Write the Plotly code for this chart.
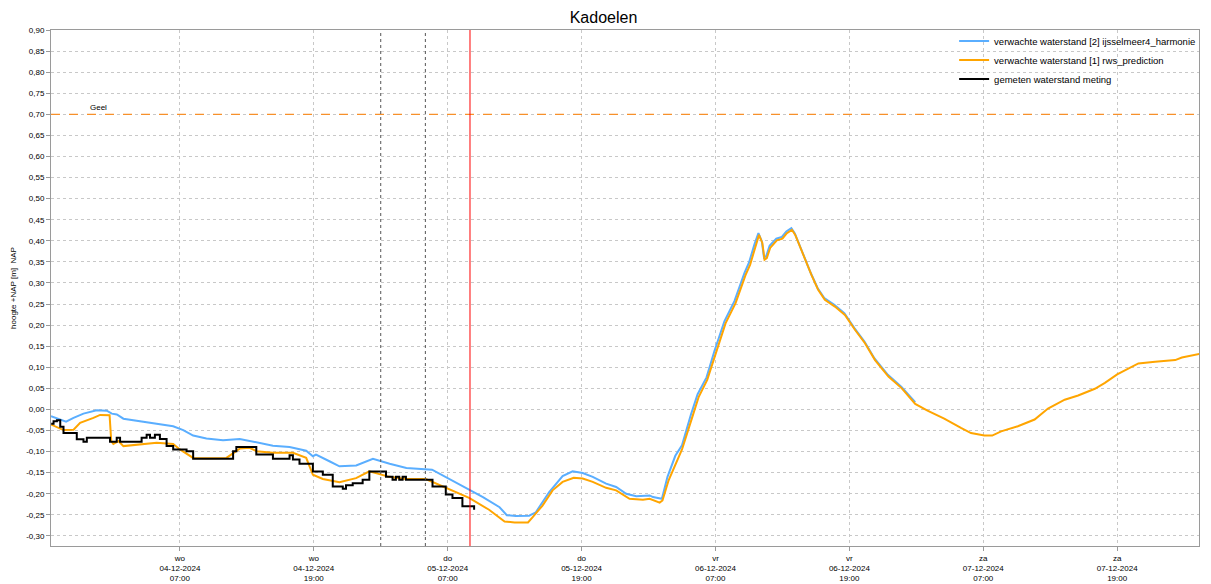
import pandas as pd
import plotly.graph_objects as go

# time axis: hours relative to 2024-12-04 07:00
BASE = pd.Timestamp("2024-12-04 07:00")

blue_h = [-11.55, -10.2, -9.53, -8.64, -7.45, -6.55, -6.1, -5.65, -5.06, -3.57, -2.08, -0.6, 0.3, 1.19,
          2.38, 3.87, 5.36, 6.85, 8.34, 9.83, 11.32, 11.92, 12.2, 13.4, 14.3, 15.8, 17.3, 18.8, 20.3,
          22.6, 24.17, 26.0, 27.16, 28.65, 29.3, 30.1, 31.3, 31.9, 33.1, 34.3, 35.2, 36.1, 37.0, 38.2,
          39.1, 40.0, 40.9, 42.1, 42.4, 43.2, 43.7, 44.4, 45.0, 45.8, 46.4, 47.2, 47.9, 48.8, 49.7,
          50.6, 51.0, 51.5, 51.85, 52.15, 52.35, 52.55, 52.85, 53.45, 53.95, 54.35, 54.8, 55.1,
          55.85, 56.55, 57.15, 57.75, 58.65, 59.55, 60.45, 61.35, 62.25, 63.45, 64.65, 65.9]
blue_v = [-0.016, -0.029, -0.020, -0.010, -0.002, -0.003, -0.010, -0.012, -0.022, -0.028, -0.033,
          -0.040, -0.049, -0.062, -0.069, -0.073, -0.070, -0.078, -0.086, -0.089, -0.098, -0.111,
          -0.107, -0.123, -0.135, -0.133, -0.117, -0.129, -0.139, -0.143, -0.165, -0.192, -0.208,
          -0.232, -0.251, -0.253, -0.252, -0.244, -0.196, -0.158, -0.147, -0.151, -0.160, -0.176,
          -0.184, -0.200, -0.206, -0.204, -0.208, -0.212, -0.160, -0.110, -0.085, -0.012, 0.036,
          0.076, 0.138, 0.209, 0.257, 0.324, 0.348, 0.392, 0.418, 0.399, 0.360, 0.364, 0.388, 0.405,
          0.409, 0.422, 0.430, 0.418, 0.367, 0.323, 0.288, 0.264, 0.248, 0.228, 0.193, 0.161, 0.121,
          0.082, 0.054, 0.017]

orange_h = [-11.53, -10.43, -9.53, -8.94, -7.75, -7.15, -6.30, -6.15, -5.96, -5.51, -5.06, -3.57,
            -2.08, -0.6, 0.0, 1.19, 2.38, 4.17, 5.36, 6.25, 6.85, 8.34, 10.13, 11.32, 11.92, 12.81,
            14.3, 15.79, 16.98, 18.77, 20.26, 22.04, 23.24, 25.92, 27.71, 28.65, 29.1, 30.0, 31.2,
            31.6, 32.5, 33.4, 34.3, 35.3, 36.1, 37.0, 38.2, 39.1, 40.3, 41.5, 42.1, 43.0, 43.25,
            43.8, 44.5, 45.0, 45.9, 46.5, 47.26, 48.0, 48.9, 49.8, 50.7, 51.1, 51.6, 51.9, 52.2,
            52.4, 52.6, 52.9, 53.5, 54.0, 54.4, 54.85, 55.15, 55.9, 56.6, 57.2, 57.8, 58.7, 59.6,
            60.5, 61.4, 62.3, 63.5, 64.7, 65.9, 67.0, 68.5, 70.0, 70.9, 72.1, 72.8, 73.6, 75.1,
            76.6, 77.8, 79.3, 80.5, 82.0, 82.9, 84.0, 85.9, 87.4, 89.2, 89.8, 91.4]
orange_v = [-0.036, -0.049, -0.048, -0.032, -0.020, -0.013, -0.014, -0.075, -0.082, -0.075, -0.087,
            -0.083, -0.079, -0.082, -0.095, -0.115, -0.116, -0.115, -0.093, -0.091, -0.099, -0.103,
            -0.103, -0.115, -0.155, -0.165, -0.173, -0.163, -0.147, -0.160, -0.165, -0.165, -0.179,
            -0.210, -0.238, -0.256, -0.266, -0.268, -0.268, -0.256, -0.228, -0.192, -0.172, -0.162,
            -0.164, -0.172, -0.186, -0.192, -0.212, -0.214, -0.212, -0.221, -0.216, -0.168, -0.125,
            -0.095, -0.020, 0.030, 0.070, 0.133, 0.204, 0.252, 0.319, 0.343, 0.387, 0.414, 0.395,
            0.355, 0.359, 0.383, 0.401, 0.405, 0.418, 0.426, 0.414, 0.363, 0.319, 0.284, 0.260, 0.244,
            0.224, 0.189, 0.157, 0.117, 0.078, 0.050, 0.013, -0.003, -0.022, -0.044, -0.056, -0.062,
            -0.062, -0.052, -0.040, -0.024, 0.002, 0.023, 0.033, 0.049, 0.063, 0.083, 0.109, 0.113,
            0.117, 0.123, 0.132]

black_h = [-11.53, -11.32, -11.02, -10.72, -10.43, -9.53, -9.24, -8.64, -8.34, -6.55, -6.26, -5.66,
           -5.36, -3.57, -3.43, -2.98, -2.68, -2.24, -1.79, -1.19, -0.6, 0.6, 1.19, 4.17, 4.77, 5.06,
           6.25, 6.85, 8.04, 8.34, 9.53, 9.83, 10.13, 10.72, 11.62, 11.92, 12.81, 13.7, 14.6, 14.89,
           15.49, 16.38, 16.98, 17.87, 18.47, 19.06, 19.36, 19.66, 19.96, 20.26, 22.04, 22.64, 23.83,
           24.43, 25.32, 26.22, 26.37]
black_v = [-0.034, -0.028, -0.026, -0.041, -0.056, -0.056, -0.071, -0.077, -0.067, -0.067, -0.077,
           -0.067, -0.077, -0.077, -0.067, -0.060, -0.067, -0.060, -0.070, -0.087, -0.095, -0.099,
           -0.117, -0.117, -0.099, -0.089, -0.089, -0.107, -0.107, -0.117, -0.117, -0.109, -0.119,
           -0.129, -0.129, -0.147, -0.155, -0.183, -0.188, -0.180, -0.175, -0.167, -0.147, -0.147,
           -0.160, -0.167, -0.160, -0.167, -0.160, -0.167, -0.167, -0.183, -0.202, -0.210, -0.230,
           -0.230, -0.238]

tick_times = ["2024-12-04 07:00", "2024-12-04 19:00", "2024-12-05 07:00", "2024-12-05 19:00",
              "2024-12-06 07:00", "2024-12-06 19:00", "2024-12-07 07:00", "2024-12-07 19:00"]
tick_labels = ["wo<br>04-12-2024<br>07:00", "wo<br>04-12-2024<br>19:00",
               "do<br>05-12-2024<br>07:00", "do<br>05-12-2024<br>19:00",
               "vr<br>06-12-2024<br>07:00", "vr<br>06-12-2024<br>19:00",
               "za<br>07-12-2024<br>07:00", "za<br>07-12-2024<br>19:00"]
y_vals = [round(-0.30 + 0.05 * i, 2) for i in range(25)]
y_labels = [f"{v:.2f}".replace(".", ",").replace("-0,00", "0,00") for v in y_vals]

x_range = ["2024-12-03 19:27", "2024-12-08 02:20"]
now_time = "2024-12-05 09:00"
marker_times = ["2024-12-05 01:00", "2024-12-05 05:00"]
geel_level = 0.70


def to_time(hours):
    return BASE + pd.to_timedelta(hours, unit="h")


FONT = "Liberation Sans"
fig = go.Figure()
fig.add_trace(go.Scatter(x=to_time(blue_h), y=blue_v, mode="lines",
                         name="verwachte waterstand [2] ijsselmeer4_harmonie",
                         line=dict(color="#5aaeff", width=2)))
fig.add_trace(go.Scatter(x=to_time(orange_h), y=orange_v, mode="lines",
                         name="verwachte waterstand [1] rws_prediction",
                         line=dict(color="#ffa500", width=2)))
fig.add_trace(go.Scatter(x=to_time(black_h), y=black_v, mode="lines", line_shape="hv",
                         name="gemeten waterstand meting",
                         line=dict(color="#000000", width=2)))

shapes = [dict(type="line", xref="paper", yref="y", x0=0, x1=1, y0=geel_level, y1=geel_level,
               line=dict(color="#f7902a", width=1.3, dash="dash"))]
for t in marker_times:
    shapes.append(dict(type="line", xref="x", yref="paper", x0=t, x1=t, y0=0, y1=1,
                       line=dict(color="#555555", width=1, dash="dot")))
shapes.append(dict(type="line", xref="x", yref="paper", x0=now_time, x1=now_time, y0=0, y1=1,
                   line=dict(color="#ff0000", width=1)))

fig.update_layout(
    width=1203, height=576,
    margin=dict(l=43, r=11, t=22, b=38),
    paper_bgcolor="white", plot_bgcolor="white",
    font=dict(family=FONT, size=8, color="#000000"),
    title=dict(text="Kadoelen", x=0.495, xanchor="center", y=0.984, yanchor="middle",
               font=dict(family=FONT, size=16, color="#000000")),
    showlegend=True,
    legend=dict(x=0.786, y=1.007, xanchor="left", yanchor="top", bgcolor="rgba(0,0,0,0)",
                font=dict(family=FONT, size=9.5), itemwidth=30, tracegroupgap=0),
    shapes=shapes,
    annotations=[dict(text="Geel", xref="x", yref="y", x=to_time(-7.3), y=geel_level,
                      yanchor="bottom", showarrow=False, font=dict(family=FONT, size=8))],
)
fig.update_xaxes(type="date", range=x_range, tickvals=tick_times, ticktext=tick_labels,
                 automargin=False,
                 showgrid=True, gridcolor="#c8c8c8", griddash="dot", gridwidth=1,
                 showline=True, linecolor="#9a9a9a", linewidth=1, mirror=True,
                 ticks="outside", ticklen=4, tickcolor="#9a9a9a", zeroline=False,
                 tickfont=dict(family=FONT, size=8))
fig.update_yaxes(range=[-0.324, 0.90], tickvals=y_vals, ticktext=y_labels,
                 automargin=False,
                 showgrid=True, gridcolor="#c8c8c8", griddash="dot", gridwidth=1,
                 showline=True, linecolor="#9a9a9a", linewidth=1, mirror=True,
                 ticks="outside", ticklen=4, tickcolor="#9a9a9a", zeroline=False,
                 tickfont=dict(family=FONT, size=8),
                 title=dict(text="hoogte +NAP [m]  NAP", font=dict(family=FONT, size=8), standoff=8))

fig.write_html("out.html")
